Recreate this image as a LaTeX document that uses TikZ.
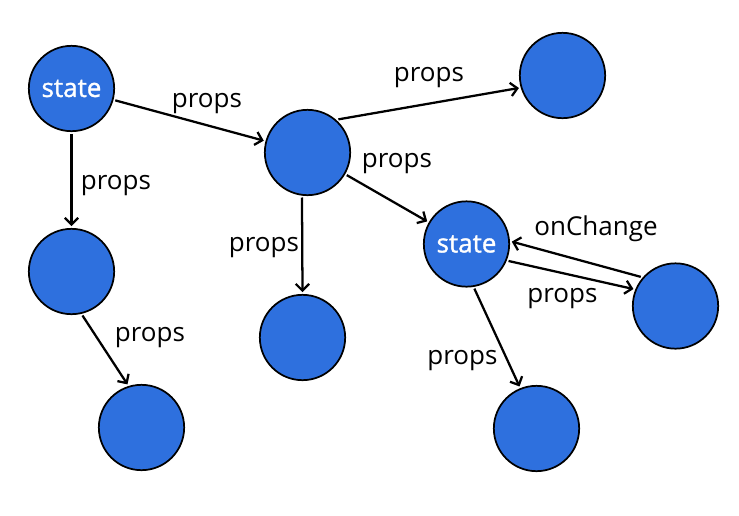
\documentclass[tikz,border=0pt]{standalone}
\usepackage{fontspec}
\setmainfont{Open Sans}
\newfontfamily\statefont[FakeBold=1.2]{Open Sans}
\usetikzlibrary{arrows.meta}
\definecolor{compblue}{RGB}{46,112,222}

\begin{document}
\begin{tikzpicture}[x=0.75pt, y=-0.75pt, font=\fontsize{19.5}{23}\selectfont,
    comp/.style={circle, draw, line width=1.3pt, fill=compblue, minimum size=64pt, inner sep=0pt, outer sep=2pt, text=white},
    flow/.style={-{Straight Barb[length=5pt,width=10pt]}, line width=1.7pt},
    lbl/.style={inner sep=0pt}]
    \useasboundingbox (0,0) rectangle (739,515);

    % Components
    \node[comp] (st1) at (71.5,88.5) {\statefont state};
    \node[comp] (lm) at (71.5,271.5) {};
    \node[comp] (bl) at (141.5,427.5) {};
    \node[comp] (mid) at (307.5,152.5) {};
    \node[comp] (tr) at (562.5,75.5) {};
    \node[comp] (mb) at (302.5,337.5) {};
    \node[comp] (st2) at (466.5,244) {\statefont state};
    \node[comp] (rt) at (675.5,306) {};
    \node[comp] (br) at (536.5,428.5) {};

    % Edges
    \draw[flow] (st1) -- (mid);
    \draw[flow] (st1) -- (lm);
    \draw[flow] (lm.-76) -- (bl.108);
    \draw[flow] (mid.47) -- (tr.196);
    \draw[flow] (mid) -- (st2);
    \draw[flow] (mid.263) -- (mb.north);
    \draw[flow] (st2.-80) -- (br.112);
    \draw[flow] (rt.140) -- (st2.3);
    \draw[flow] (st2.-22) -- (rt.158);

    % Labels
    \node[lbl] (p1) at (207,104) {props};
    \node[lbl] (p2) at (116,186) {props};
    \node[lbl] (p3) at (150,338) {props};
    \node[lbl] (p4) at (429,78) {props};
    \node[lbl] (p5) at (397,164) {props};
    \node[lbl] (p6) at (264,248) {props};
    \node[lbl] (oc) at (596,229) {onChange};
    \node[lbl] (p7) at (562.5,299) {props};
    \node[lbl] (p8) at (462.5,361) {props};
\end{tikzpicture}
\end{document}
